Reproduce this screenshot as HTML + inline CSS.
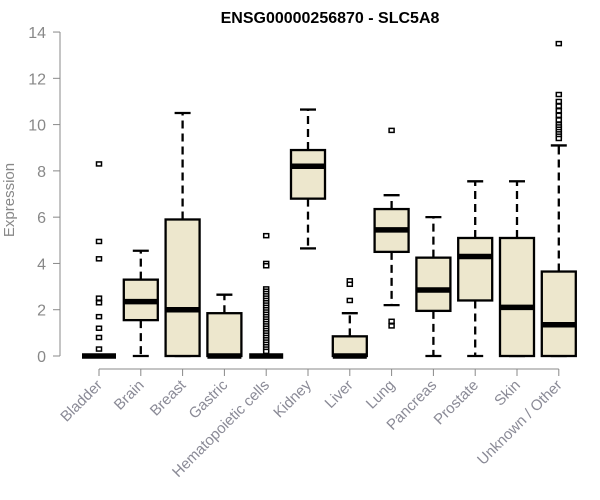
<!DOCTYPE html>
<html><head><meta charset="utf-8"><style>
body{margin:0;background:#fff;}
svg{display:block;font-family:"Liberation Sans",Arial,sans-serif;}
</style></head><body>
<svg id="chart" width="600" height="500">
<text x="330" y="23" text-anchor="middle" font-weight="bold" font-size="16">ENSG00000256870 - SLC5A8</text>
<text transform="translate(14,200) rotate(-90)" text-anchor="middle" font-size="15" fill="#888">Expression</text>
<g id="axes"></g><g id="boxes"></g>
</svg>
<script>
const categories=["Bladder","Brain","Breast","Gastric","Hematopoietic cells","Kidney","Liver","Lung","Pancreas","Prostate","Skin","Unknown / Other"];
const whiskerLow=[0,0,0,0,0,4.65,0,2.2,0,0,0,0];
const q1=[0,1.55,0,0,0,6.8,0,4.5,1.95,2.4,0,0];
const median=[0,2.35,2.0,0,0,8.2,0,5.45,2.85,4.3,2.1,1.35];
const q3=[0,3.3,5.9,1.85,0,8.9,0.85,6.35,4.25,5.1,5.1,3.65];
const whiskerHigh=[0,4.55,10.5,2.65,0,10.65,1.85,6.95,6.0,7.55,7.55,9.1];
const outliers=[[8.3,4.95,4.2,2.5,2.3,1.7,1.2,0.8,0.3],[],[],[],[5.2,4.0,3.9,2.9,2.8,2.7,2.6,2.5,2.4,2.3,2.2,2.1,2.0,1.9,1.8,1.7,1.6,1.5,1.4,1.3,1.2,1.1,1.0,0.9,0.8,0.7,0.6,0.5,0.4,0.3,0.2],[],[3.25,3.1,2.4],[9.75,1.5,1.3],[],[],[],[13.5,11.3,11.0,10.8,10.6,10.4,10.2,10.0,9.9,9.8,9.7,9.6,9.5,9.4]];
const yTicks=[0,2,4,6,8,10,12,14];
const NS="http://www.w3.org/2000/svg";
const y=v=>356-v*23.14;
const x=i=>99+i*41.8;
function mk(tag,attrs,parent){const e=document.createElementNS(NS,tag);for(const k in attrs)e.setAttribute(k,attrs[k]);parent.appendChild(e);return e;}
const ax=document.getElementById('axes'),bx=document.getElementById('boxes');
let a=mk('line',{x1:60,x2:60,y1:y(0),y2:y(14),stroke:'#888'},ax);

yTicks.forEach(t=>{
 let l=mk('line',{x1:53,x2:60,y1:y(t),y2:y(t),stroke:'#888'},ax);
 
 let tx=mk('text',{x:46,y:y(t)+6,'text-anchor':'end','font-size':16,fill:'#888'},ax);tx.textContent=t;
 
});
a=mk('line',{x1:x(0),x2:x(11),y1:369,y2:369,stroke:'#888'},ax);

categories.forEach((c,i)=>{
 let l=mk('line',{x1:x(i),x2:x(i),y1:369,y2:376,stroke:'#888'},ax);
 
 let tx=mk('text',{transform:`translate(${x(i)+4},386) rotate(-45)`,'text-anchor':'end','font-size':15,fill:'#8a8a96'},ax);tx.textContent=c;
 
 const g=mk('g',{},bx);
 
 
 const cx=x(i),hw=17;
 mk('line',{x1:cx,x2:cx,y1:y(q3[i]),y2:y(whiskerHigh[i]),stroke:'#000','stroke-width':2.3,'stroke-dasharray':'8,5'},g);
 mk('line',{x1:cx,x2:cx,y1:y(q1[i]),y2:y(whiskerLow[i]),stroke:'#000','stroke-width':2.3,'stroke-dasharray':'8,5'},g);
 mk('line',{x1:cx-8,x2:cx+8,y1:y(whiskerHigh[i]),y2:y(whiskerHigh[i]),stroke:'#000','stroke-width':2.3},g);
 mk('line',{x1:cx-8,x2:cx+8,y1:y(whiskerLow[i]),y2:y(whiskerLow[i]),stroke:'#000','stroke-width':2.3},g);
 mk('rect',{x:cx-hw,y:y(q3[i]),width:hw*2,height:Math.max(0,y(q1[i])-y(q3[i])),fill:'#ede7cd',stroke:'#000','stroke-width':2.3},g);
 mk('line',{x1:cx-hw,x2:cx+hw,y1:y(median[i]),y2:y(median[i]),stroke:'#000','stroke-width':5.5},g);
 outliers[i].forEach(v=>{mk('rect',{x:cx-2.5,y:y(v)-2,width:5,height:4,fill:'#fff',stroke:'#000','stroke-width':1.5},g);});
});
</script>
</body></html>
